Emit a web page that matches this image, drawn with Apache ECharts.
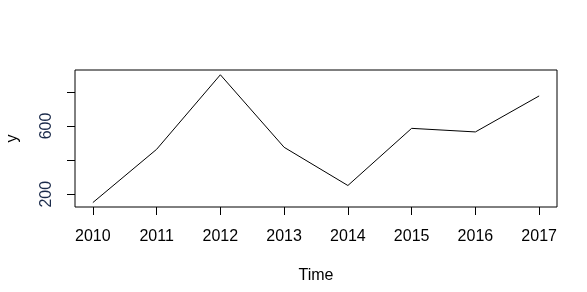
<!DOCTYPE html>
<html><head><meta charset="utf-8">
<script src="https://cdn.jsdelivr.net/npm/echarts@6/dist/echarts.min.js"></script>
<style>html,body{margin:0;padding:0;background:#fff}#c{width:587px;height:292px}</style>
</head><body><div id="c"></div>
<script>
const years = [2010, 2011, 2012, 2013, 2014, 2015, 2016, 2017];
const values = [151, 463, 900, 475, 251, 586, 565, 776];
const yTicks = [200, 400, 600, 800];
const yLabels = [200, 600];
const xLabel = 'Time';
const yLabel = 'y';

const chart = echarts.init(document.getElementById('c'), null, {renderer: 'canvas'});
const font = 'Liberation Sans, Arial, sans-serif';
chart.setOption({
  animation: false,
  grid: {left: 75, top: 70, width: 482, height: 137, show: true, borderColor: '#000', borderWidth: 1,
         backgroundColor: 'transparent', containLabel: false, outerBoundsMode: 'none'},
  xAxis: {
    type: 'value', min: 2009.72, max: 2017.28,
    name: xLabel, nameLocation: 'middle', nameGap: 61,
    nameTextStyle: {color: '#000', fontSize: 16, fontFamily: font},
    axisLine: {show: false},
    splitLine: {show: false},
    axisTick: {show: true, length: 8, customValues: years, lineStyle: {color: '#000'}},
    axisLabel: {customValues: years, color: '#000', fontSize: 16, fontFamily: font, margin: 22, formatter: v => String(v)}
  },
  yAxis: {
    type: 'value', min: 125, max: 928,
    name: yLabel, nameLocation: 'middle', nameGap: 54,
    nameTextStyle: {color: '#000', fontSize: 16, fontFamily: font},
    axisLine: {show: false},
    splitLine: {show: false},
    axisTick: {show: true, length: 8, customValues: yTicks, lineStyle: {color: '#000'}},
    axisLabel: {customValues: yLabels, rotate: 90, color: '#1a2a4a', fontSize: 16, fontFamily: font, margin: 20, formatter: v => String(v)}
  },
  series: [{
    type: 'line',
    data: years.map((y, i) => [y, values[i]]),
    showSymbol: false,
    lineStyle: {color: '#000', width: 1},
    silent: true
  }]
});
</script></body></html>
